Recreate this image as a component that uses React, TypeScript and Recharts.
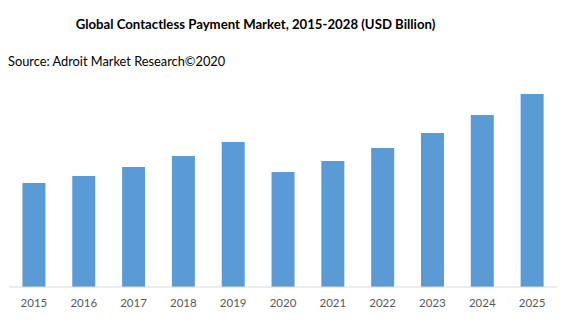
import React from "react";
import { BarChart, Bar, XAxis, YAxis } from "recharts";

// Bar heights (no y axis shown, relative scale)
const years = ["2015", "2016", "2017", "2018", "2019", "2020", "2021", "2022", "2023", "2024", "2025"];
const marketValues = [10.4, 11.1, 12.0, 13.1, 14.5, 11.5, 12.6, 13.9, 15.4, 17.2, 19.3];

const data = years.map((year, i) => ({ year, value: marketValues[i] }));

const font = "Lato, 'Open Sans', sans-serif";

export default function App() {
    return (
        <div style={{ position: "absolute", left: 0, top: 0, width: 563, height: 327, background: "#fff", fontFamily: font }}>
            <div
                style={{
                    position: "absolute",
                    top: 15,
                    left: 0,
                    width: 511,
                    textAlign: "center",
                    fontWeight: "bold",
                    fontSize: 13.2,
                    color: "#000",
                    lineHeight: "18px",
                }}
            >
                Global Contactless Payment Market, 2015-2028 (USD Billion)
            </div>
            <div style={{ position: "absolute", top: 52, left: 8, fontSize: 12.8, color: "#000", lineHeight: "18px" }}>
                Source: Adroit Market Research©2020
            </div>
            <BarChart
                width={563}
                height={327}
                data={data}
                margin={{ top: 87, right: 6, bottom: 10, left: 9 }}
                barCategoryGap="27%"
                style={{ position: "absolute", left: 0, top: 0 }}
            >
                <XAxis
                    dataKey="year"
                    height={30}
                    tickLine={false}
                    axisLine={{ stroke: "#d9d9d9" }}
                    tick={{ fill: "#595959", fontSize: 11.5, fontFamily: font }}
                    tickMargin={6}
                    interval={0}
                />
                <YAxis hide domain={[0, 20]} />
                <Bar dataKey="value" fill="#5b9bd5" isAnimationActive={false} />
            </BarChart>
        </div>
    );
}
